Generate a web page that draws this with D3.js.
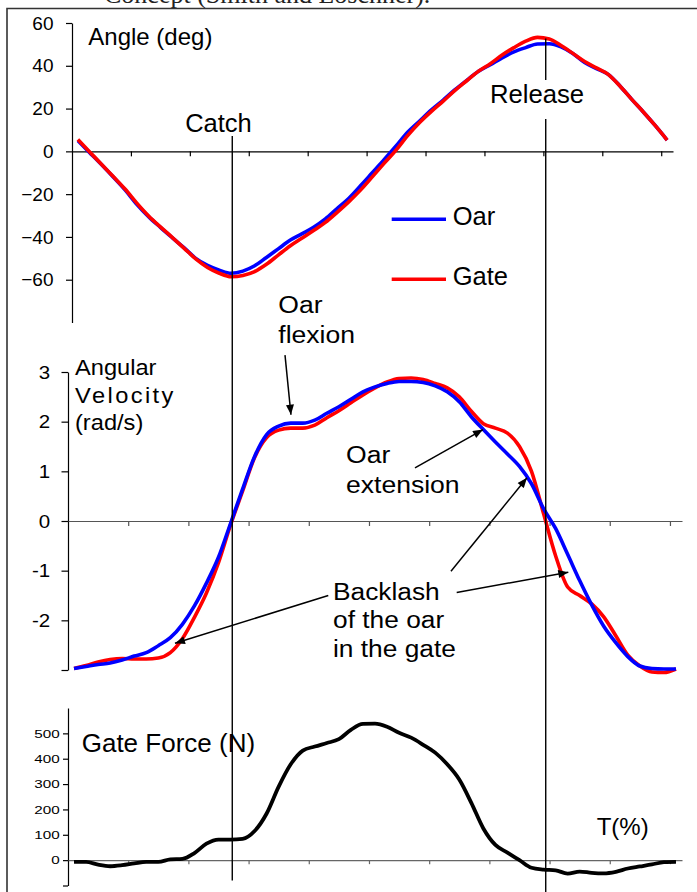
<!DOCTYPE html>
<html>
<head>
<meta charset="utf-8">
<script src="https://cdn.jsdelivr.net/npm/d3@7"></script>
<style>
  html,body{margin:0;padding:0;background:#fff;}
  svg{display:block;font-family:"Liberation Sans",Arial,sans-serif;}
</style>
</head>
<body>
<svg id="chart" width="697" height="892"></svg>
<script>
// ---- data (T = % of stroke cycle) ----
const T = [1,3,5,7,9,11,13,15,17,19,21,23,25,27,29,31,33,35,37,39,41,43,45,47,49,51,53,55,57,59,61,63,65,67,69,71,73,75,77,79,81,83,85,87,89,91,93,95,97,99,101];
const angleOar  = [5,-0.6,-6.2,-12,-18,-24.7,-30.5,-35.5,-40.3,-45,-50,-53.3,-55.5,-57,-56,-53.5,-49.6,-45.6,-41.6,-38.6,-35.5,-31.6,-26.7,-21.9,-16,-9.9,-3.8,2.5,9,14.2,19.4,24,28.8,33.2,37.4,40.5,43.7,46.5,48.5,50.2,50.3,48.8,45.7,41.5,38.7,36,30.6,24.3,18.3,12,5.3];
const angleGate = [5.5,-0.3,-6,-11.8,-17.6,-24.2,-30.2,-35.3,-40.2,-45.2,-50.3,-54.3,-57,-58.6,-58,-56.2,-52.8,-48.5,-44.2,-40.6,-37,-33.2,-28.5,-23.5,-18,-11.8,-5.5,0.6,7.5,13.5,18.7,23.5,28.5,33,37.5,41,45,48.5,51.5,53.3,52.5,49.5,45.8,42,39,36,30.5,24.3,18.3,12,5.3];
const velOar  = [-2.97,-2.93,-2.89,-2.86,-2.8,-2.72,-2.65,-2.51,-2.35,-2.08,-1.71,-1.25,-0.73,-0.05,0.64,1.3,1.74,1.91,1.97,1.97,2.03,2.17,2.3,2.45,2.6,2.7,2.77,2.81,2.81,2.79,2.72,2.6,2.4,2.1,1.84,1.59,1.35,1.1,0.75,0.25,-0.15,-0.67,-1.2,-1.69,-2.12,-2.45,-2.73,-2.92,-2.97,-2.98,-2.98];
const velGate = [-2.97,-2.91,-2.84,-2.79,-2.77,-2.78,-2.78,-2.76,-2.65,-2.37,-1.94,-1.45,-0.84,-0.08,0.6,1.28,1.68,1.83,1.87,1.87,1.93,2.08,2.22,2.38,2.54,2.68,2.8,2.87,2.88,2.85,2.77,2.68,2.5,2.21,1.96,1.87,1.77,1.5,1.0,0.15,-0.7,-1.33,-1.5,-1.67,-1.93,-2.31,-2.7,-2.92,-3.04,-3.05,-2.98];
const gateForce = [-7,-7,-18,-24,-20,-13,-7,-7,3,5,28,65,81,81,84,115,184,290,378,432,448,462,477,514,537,538,526,502,483,455,424,378,318,226,125,60,30,0,-30,-37,-40,-53,-45,-50,-52,-46,-33,-25,-17,-8,-7];

const angleTicks = [60,40,20,0,-20,-40,-60];
const velTicks = [3,2,1,0,-1,-2,-3];
const velLabels = [3,2,1,0,-1,-2];
const forceTicks = [500,400,300,200,100,0,-100];
const forceLabels = [500,400,300,200,100,0];
const xTicks = [10,20,30,40,50,60,70,80,90,100];
const catchT = 27.2, releaseT = 80.4;
const seriesNames = ["Oar","Gate"];
const seriesColors = ["#0000ff","#ff0000"];

// ---- drawing ----
const svg = d3.select("#chart");
const FONT = "Liberation Sans, Arial, sans-serif";

// cut-off caption above the figure + page frame
svg.append("text").attr("x",104).attr("y",2.5).attr("font-family","Liberation Serif, Times New Roman, serif")
  .attr("font-size",26).attr("fill","#222").text("Concept (Smith and Loschner).");
svg.append("path").attr("d","M7,892 V8.5 H697").attr("fill","none").attr("stroke","#333").attr("stroke-width",1.6);

function txt(x,y,s,size,sx=1,anchor="start",ls=0){
  return svg.append("text").attr("transform",`translate(${x},${y}) scale(${sx},1)`)
    .attr("font-size",size).attr("text-anchor",anchor).attr("fill","#000")
    .attr("letter-spacing",ls).text(s);
}

// scales
const xTop = d3.scaleLinear().domain([0,102]).range([72,673]);
const yTop = d3.scaleLinear().domain([-80,60]).range([322.5,23]);
const xMid = d3.scaleLinear().domain([0,102]).range([68,682]);
const yMid = d3.scaleLinear().domain([-3,3]).range([670,372]);
const xBot = d3.scaleLinear().domain([0,102]).range([68,682]);
const yBot = d3.scaleLinear().domain([-100,600]).range([885.5,708]);

function styleAxis(g,color,fs){
  g.select(".domain").attr("stroke",color).attr("stroke-width",1.2);
  g.selectAll(".tick line").attr("stroke",color).attr("stroke-width",1.2);
  g.selectAll(".tick text").attr("fill","#000").attr("font-size",fs).attr("font-family",FONT);
}

// ---- top panel: angle ----
const gTopY = svg.append("g").attr("transform",`translate(72,0)`)
  .call(d3.axisLeft(yTop).tickValues(angleTicks).tickSize(6).tickPadding(12.5).tickSizeOuter(0));
styleAxis(gTopY,"#000",19);
const gTopX = svg.append("g").attr("transform",`translate(0,${yTop(0)})`)
  .call(d3.axisBottom(xTop).tickValues(xTicks).tickSize(5).tickFormat("").tickSizeOuter(0));
styleAxis(gTopX,"#000",0);

const lineTop = (vals)=>d3.line().x((d,i)=>xTop(T[i])).y(d=>yTop(d)).curve(d3.curveMonotoneX)(vals);
svg.append("path").attr("d",lineTop(angleOar)).attr("fill","none").attr("stroke",seriesColors[0]).attr("stroke-width",3.6);
svg.append("path").attr("d",lineTop(angleGate)).attr("fill","none").attr("stroke",seriesColors[1]).attr("stroke-width",3.6);

txt(88.3,45,"Angle (deg)",24);
txt(218.5,131.7,"Catch",25.5,1,"middle");
txt(537,103.3,"Release",25.7,1,"middle");

// legend
const legY = [219.3,279.3];
seriesNames.forEach((n,i)=>{
  svg.append("line").attr("x1",391.7).attr("x2",446).attr("y1",legY[i]).attr("y2",legY[i])
    .attr("stroke",seriesColors[i]).attr("stroke-width",3.4);
  txt(452.7,legY[i]+6,n,25.5);
});

// ---- middle panel: angular velocity ----
const gMidY = svg.append("g").attr("transform",`translate(68,0)`)
  .call(d3.axisLeft(yMid).tickValues(velTicks).tickSize(6.5).tickPadding(10)
    .tickFormat(d=>velLabels.includes(d)?d:"").tickSizeOuter(0));
styleAxis(gMidY,"#000",19);
gMidY.selectAll(".tick text").attr("transform","scale(1.08,1)");
const gMidX = svg.append("g").attr("transform",`translate(0,${yMid(0)})`)
  .call(d3.axisBottom(xMid).tickValues(xTicks).tickSize(5).tickFormat("").tickSizeOuter(0));
styleAxis(gMidX,"#555",0);

const lineMid = (vals)=>d3.line().x((d,i)=>xMid(T[i])).y(d=>yMid(d)).curve(d3.curveMonotoneX)(vals);
svg.append("path").attr("d",lineMid(velGate)).attr("fill","none").attr("stroke",seriesColors[1]).attr("stroke-width",3.6);
svg.append("path").attr("d",lineMid(velOar)).attr("fill","none").attr("stroke",seriesColors[0]).attr("stroke-width",3.6);

txt(75,375,"Angular",21.5,1.1);
txt(75,403.3,"Velocity",21.5,1.1,"start",2.2);
txt(75,430,"(rad/s)",21.5,1.1);

// annotations
const defs = svg.append("defs");
defs.append("marker").attr("id","ah").attr("viewBox","0 0 10 8").attr("refX",10).attr("refY",4)
  .attr("markerWidth",11).attr("markerHeight",8).attr("markerUnits","userSpaceOnUse").attr("orient","auto")
  .append("path").attr("d","M0,0 L10,4 L0,8 z").attr("fill","#000");
const arrows = [
  [[36.05,3.34],[37.04,2.14]],
  [[57.64,1.07],[68.94,1.84]],
  [[43.24,-1.50],[17.77,-2.46]],
  [[63.62,-1.01],[76.25,0.87]],
  [[64.57,-1.44],[83.11,-1.03]]
];
arrows.forEach(a=>{
  svg.append("line").attr("x1",xMid(a[0][0])).attr("y1",yMid(a[0][1]))
    .attr("x2",xMid(a[1][0])).attr("y2",yMid(a[1][1]))
    .attr("stroke","#000").attr("stroke-width",1.5).attr("marker-end","url(#ah)");
});
txt(278.3,313,"Oar",23.5,1.13);
txt(278.3,343.3,"flexion",23.5,1.13);
txt(346,463.3,"Oar",23.5,1.13);
txt(346,493.3,"extension",23.5,1.13);
txt(333,600,"Backlash",23.5,1.12);
txt(333,628.3,"of the oar",23.5,1.12);
txt(333,656.7,"in the gate",23.5,1.12);

// ---- bottom panel: gate force ----
const gBotY = svg.append("g").attr("transform",`translate(68,0)`)
  .call(d3.axisLeft(yBot).tickValues(forceTicks).tickSize(5).tickPadding(0)
    .tickFormat(d=>forceLabels.includes(d)?d:"").tickSizeOuter(0));
styleAxis(gBotY,"#000",11.8);
gBotY.selectAll(".tick text").attr("x",0).attr("transform","translate(-8.3,0) scale(1.29,1)");
const gBotX = svg.append("g").attr("transform",`translate(0,${yBot(0)})`)
  .call(d3.axisBottom(xBot).tickValues(xTicks).tickSize(4).tickFormat("").tickSizeOuter(0));
styleAxis(gBotX,"#666",0);

const lineBot = d3.line().x((d,i)=>xBot(T[i])).y(d=>yBot(d)).curve(d3.curveMonotoneX);
svg.append("path").attr("d",lineBot(gateForce)).attr("fill","none").attr("stroke","#000").attr("stroke-width",3.8);

txt(81.7,751.7,"Gate Force (N)",26);
txt(596.7,835,"T(%)",24);

// ---- catch / release markers ----
svg.append("line").attr("x1",xTop(catchT)).attr("x2",xTop(catchT)).attr("y1",136).attr("y2",880.5)
  .attr("stroke","#000").attr("stroke-width",1.4);
svg.append("line").attr("x1",xTop(releaseT)).attr("x2",xTop(releaseT)).attr("y1",38.5).attr("y2",80)
  .attr("stroke","#000").attr("stroke-width",1.4);
svg.append("line").attr("x1",xTop(releaseT)).attr("x2",xTop(releaseT)).attr("y1",119).attr("y2",892)
  .attr("stroke","#000").attr("stroke-width",1.4);
</script>
</body>
</html>
